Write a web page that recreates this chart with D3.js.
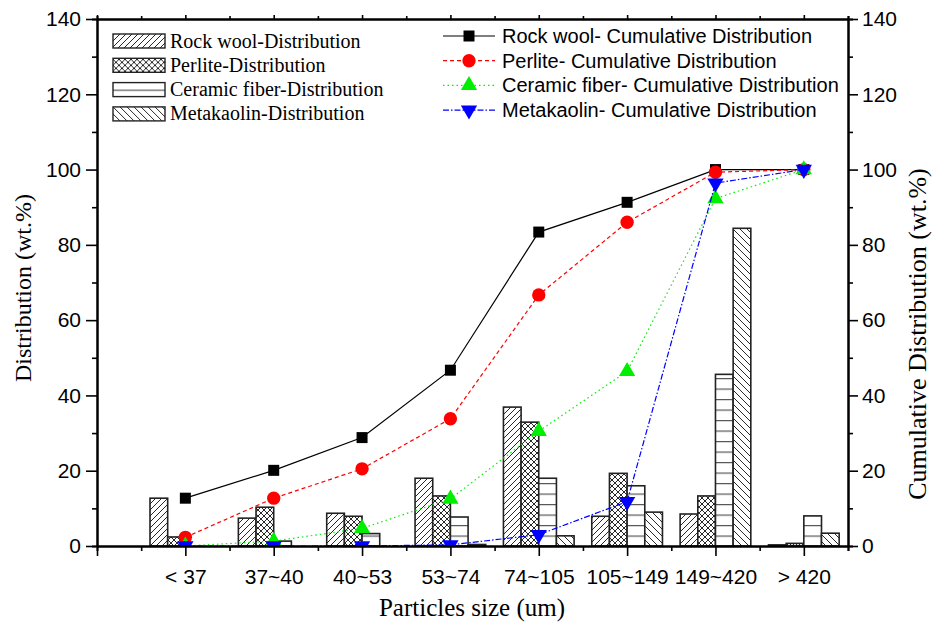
<!DOCTYPE html>
<html>
<head>
<meta charset="utf-8">
<script src="https://cdn.jsdelivr.net/npm/d3@7"></script>
<style>
  body { margin: 0; background: #fff; }
  .tick text { font-family: "Liberation Sans", Arial, sans-serif; font-size: 21px; fill: #000; }
</style>
</head>
<body>
<div id="chart"></div>
<script>
// categories (particle size bins, um)
const categories = ["< 37", "37~40", "40~53", "53~74", "74~105", "105~149", "149~420", "> 420"];

// distribution (wt.%)
const rockDist     = [12.7, 7.4, 8.7, 18.0, 36.9, 7.9, 8.5, 0.3];
const perliteDist  = [2.4, 10.3, 7.9, 13.3, 32.9, 19.3, 13.3, 0.7];
const ceramicDist  = [0, 1.3, 3.3, 7.7, 18.0, 16.0, 45.6, 8.0];
const metaDist     = [0, 0, 0, 0.4, 2.7, 9.0, 84.4, 3.4];

// cumulative distribution (wt.%)
const rockCum     = [12.7, 20.1, 28.8, 46.7, 83.4, 91.3, 100, 100];
const perliteCum  = [2.3, 12.7, 20.5, 33.8, 66.7, 86.0, 99.3, 100];
const ceramicCum  = [0, 1.3, 4.7, 12.5, 30.5, 46.4, 92.3, 100];
const metaCum     = [0, 0, 0, 0.3, 3.0, 11.8, 96.4, 100];

const yTicks = [0, 20, 40, 60, 80, 100, 120, 140];

const width = 933, height = 626;
const margin = {top: 19, right: 85, bottom: 80, left: 97};

let svg = d3.select("#chart").append("svg")
    .attr("width", width)
    .attr("height", height);

let x = d3.scaleLinear().domain([0, 8.5]).range([margin.left, width - margin.right]);
let y = d3.scaleLinear().domain([0, 140]).range([height - margin.bottom, margin.top]);

let defs = svg.append("defs");

// hatch patterns
let pRock = defs.append("pattern").attr("id", "p-rock")
    .attr("patternUnits", "userSpaceOnUse").attr("width", 6).attr("height", 6);
pRock.append("path").attr("d", "M0,6 L6,0 M-1,1 L1,-1 M5,7 L7,5")
    .attr("stroke", "#111").attr("stroke-width", 0.9);

let pPerl = defs.append("pattern").attr("id", "p-perl")
    .attr("patternUnits", "userSpaceOnUse").attr("width", 6).attr("height", 6);
pPerl.append("path").attr("d", "M0,6 L6,0 M-1,1 L1,-1 M5,7 L7,5 M0,0 L6,6 M-1,5 L1,7 M5,-1 L7,1")
    .attr("stroke", "#111").attr("stroke-width", 0.9);

let pCer = defs.append("pattern").attr("id", "p-cer")
    .attr("patternUnits", "userSpaceOnUse").attr("width", 10).attr("height", 10.5)
    .attr("y", y(0));
pCer.append("path").attr("d", "M0,0.5 L10,0.5")
    .attr("stroke", "#555").attr("stroke-width", 1.4);

let pMeta = defs.append("pattern").attr("id", "p-meta")
    .attr("patternUnits", "userSpaceOnUse").attr("width", 7).attr("height", 7);
pMeta.append("path").attr("d", "M0,0 L7,7 M-1,6 L1,8 M6,-1 L8,1")
    .attr("stroke", "#111").attr("stroke-width", 0.9);

defs.append("clipPath").attr("id", "plot-clip")
  .append("rect")
    .attr("x", x(0)).attr("y", y(140))
    .attr("width", x(8.5) - x(0)).attr("height", y(0) - y(140));

// bars
let barW = 0.2;
let barSeries = [
    {name: "Rock wool-Distribution", values: rockDist, fill: "url(#p-rock)", offset: -2},
    {name: "Perlite-Distribution", values: perliteDist, fill: "url(#p-perl)", offset: -1},
    {name: "Ceramic fiber-Distribution", values: ceramicDist, fill: "url(#p-cer)", offset: 0},
    {name: "Metakaolin-Distribution", values: metaDist, fill: "url(#p-meta)", offset: 1}
];

let barG = svg.append("g").attr("class", "bars");
barSeries.forEach(s => {
    barG.selectAll(null)
        .data(s.values.map((v, i) => [i + 1, v]))
        .enter().append("rect")
        .attr("x", d => x(d[0] + s.offset * barW))
        .attr("y", d => y(d[1]))
        .attr("width", x(barW) - x(0))
        .attr("height", d => y(0) - y(d[1]))
        .attr("fill", "#fff");
    barG.selectAll(null)
        .data(s.values.map((v, i) => [i + 1, v]))
        .enter().append("rect")
        .attr("x", d => x(d[0] + s.offset * barW))
        .attr("y", d => y(d[1]))
        .attr("width", x(barW) - x(0))
        .attr("height", d => y(0) - y(d[1]))
        .attr("fill", s.fill)
        .attr("stroke", "#222")
        .attr("stroke-width", 1.6);
});

// cumulative lines
let lineSeries = [
    {name: "Rock wool- Cumulative Distribution", values: rockCum, color: "#000", dash: null, symbol: d3.symbolSquare, size: 121, rot: 0},
    {name: "Perlite- Cumulative Distribution", values: perliteCum, color: "#ff0000", dash: "4,3", symbol: d3.symbolCircle, size: 140, rot: 0},
    {name: "Ceramic fiber- Cumulative Distribution", values: ceramicCum, color: "#00ee00", dash: "1.5,3", symbol: d3.symbolTriangle, size: 115, rot: 0},
    {name: "Metakaolin- Cumulative Distribution", values: metaCum, color: "#0000ff", dash: "6,2,1.5,2", symbol: d3.symbolTriangle, size: 115, rot: 180}
];

let line = d3.line().x(d => x(d[0])).y(d => y(d[1]));
let lineG = svg.append("g").attr("clip-path", "url(#plot-clip)");

lineSeries.forEach(s => {
    let pts = s.values.map((v, i) => [i + 1, v]);
    lineG.append("path")
        .datum(pts)
        .attr("d", line)
        .attr("fill", "none")
        .attr("stroke", s.color)
        .attr("stroke-width", 1.2)
        .attr("stroke-dasharray", s.dash);
    lineG.selectAll(null)
        .data(pts)
        .enter().append("path")
        .attr("d", d3.symbol().type(s.symbol).size(s.size))
        .attr("transform", d => `translate(${x(d[0])},${y(d[1])}) rotate(${s.rot})`)
        .attr("fill", s.color);
});

// axes
let yMinor = d3.range(10, 140, 20);
let xMajor = d3.range(0, 9);
let xMinor = d3.range(0.5, 8.6, 1);

function styleAxis(g) {
    g.select(".domain").attr("stroke-width", 2);
    g.selectAll(".tick line").attr("stroke-width", 1.6);
}

svg.append("g")
    .attr("transform", `translate(${x(0)},0)`)
    .call(d3.axisLeft(y).tickValues(yTicks).tickSize(11).tickSizeOuter(0).tickPadding(5))
    .call(styleAxis);
svg.append("g")
    .attr("transform", `translate(${x(0)},0)`)
    .call(d3.axisLeft(y).tickValues(yMinor).tickSize(5).tickFormat(""))
    .call(styleAxis);

svg.append("g")
    .attr("transform", `translate(${x(8.5)},0)`)
    .call(d3.axisRight(y).tickValues(yTicks).tickSize(10).tickSizeOuter(0).tickPadding(4))
    .call(styleAxis);
svg.append("g")
    .attr("transform", `translate(${x(8.5)},0)`)
    .call(d3.axisRight(y).tickValues(yMinor).tickSize(5).tickFormat(""))
    .call(styleAxis);

svg.append("g")
    .attr("transform", `translate(0,${y(0)})`)
    .call(d3.axisBottom(x).tickValues(xMajor).tickSize(10).tickSizeOuter(0).tickPadding(13)
        .tickFormat(d => d === 0 ? "" : categories[d - 1]))
    .call(styleAxis);
svg.append("g")
    .attr("transform", `translate(0,${y(0)})`)
    .call(d3.axisBottom(x).tickValues(xMinor).tickSize(5).tickFormat(""))
    .call(styleAxis);

svg.append("g")
    .attr("transform", `translate(0,${y(140)})`)
    .call(d3.axisTop(x).tickValues(xMajor).tickSize(4).tickSizeOuter(0).tickFormat(""))
    .call(styleAxis);
svg.append("g")
    .attr("transform", `translate(0,${y(140)})`)
    .call(d3.axisTop(x).tickValues(xMinor).tickSize(3).tickFormat(""))
    .call(styleAxis);

// axis titles
svg.append("text")
    .attr("x", 472)
    .attr("y", 616)
    .attr("text-anchor", "middle")
    .style("font-family", "'Liberation Serif', 'Times New Roman', serif")
    .style("font-size", "25px")
    .text("Particles size (um)");

svg.append("text")
    .attr("transform", `translate(31,288) rotate(-90)`)
    .attr("text-anchor", "middle")
    .style("font-family", "'Liberation Serif', 'Times New Roman', serif")
    .style("font-size", "24px")
    .text("Distribution (wt.%)");

svg.append("text")
    .attr("transform", `translate(926,334) rotate(-90)`)
    .attr("text-anchor", "middle")
    .style("font-family", "'Liberation Serif', 'Times New Roman', serif")
    .style("font-size", "26px")
    .text("Cumulative Distribution (wt.%)");

// left legend (bars)
let legL = svg.append("g").attr("transform", "translate(113,41)");
barSeries.forEach((s, i) => {
    let g = legL.append("g").attr("transform", `translate(0,${i * 24.3})`);
    g.append("rect").attr("x", 0).attr("y", -7).attr("width", 52).attr("height", 14).attr("fill", "#fff");
    g.append("rect").attr("x", 0).attr("y", -7).attr("width", 52).attr("height", 14)
        .attr("fill", s.fill).attr("stroke", "#222").attr("stroke-width", 1.4);
    g.append("text").attr("x", 57).attr("y", 6.5)
        .style("font-family", "'Liberation Serif', 'Times New Roman', serif")
        .style("font-size", "20px")
        .text(s.name);
});

// right legend (lines)
let legR = svg.append("g").attr("transform", "translate(443,36)");
lineSeries.forEach((s, i) => {
    let g = legR.append("g").attr("transform", `translate(0,${i * 24.7})`);
    g.append("line").attr("x1", 0).attr("x2", 52).attr("y1", 0).attr("y2", 0)
        .attr("stroke", s.color).attr("stroke-width", 1.2).attr("stroke-dasharray", s.dash);
    g.append("path")
        .attr("d", d3.symbol().type(s.symbol).size(s.size))
        .attr("transform", `translate(26,0) rotate(${s.rot})`)
        .attr("fill", s.color);
    g.append("text").attr("x", 59).attr("y", 7)
        .style("font-family", "'Liberation Sans', Arial, sans-serif")
        .style("font-size", "20px")
        .text(s.name);
});
</script>
</body>
</html>
